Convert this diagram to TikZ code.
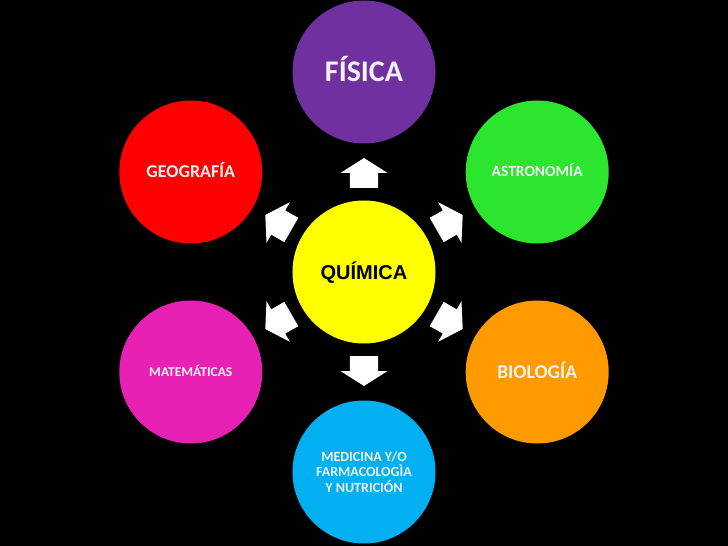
\documentclass[tikz,border=0pt]{standalone}
\usepackage{fontspec}
\setmainfont{Carlito}
\newfontfamily\arialfont{Liberation Sans}
\usetikzlibrary{calc}

\definecolor{quimica}{HTML}{FFFF00}
\definecolor{fisica}{HTML}{7030A0}
\definecolor{astronomia}{HTML}{2CE52E}
\definecolor{biologia}{HTML}{FF9A00}
\definecolor{medicina}{HTML}{00B0F0}
\definecolor{matematicas}{HTML}{E621B4}
\definecolor{geografia}{HTML}{FF0000}
\definecolor{labeltext}{HTML}{F2F2F2}

\tikzset{
	ball/.style={circle, minimum size=143pt, inner sep=0pt, text=labeltext, text depth=0pt},
	blockarrow/.style={fill=white}
}

\begin{document}
\begin{tikzpicture}[x=1pt, y=1pt]
					\fill[black] (-364,-274) rectangle (364,272);
					\node[ball, fill=quimica, text=black, text height=14.3pt, font=\arialfont\bfseries\fontsize{20}{24}\selectfont] (QUI)at(0, 0) {QUÍMICA};
					\node[ball, fill=fisica, text height=19.3pt, font=\bfseries\fontsize{30}{36}\selectfont] (FIS)at(90:200) {FÍSICA};
					\node[ball, fill=astronomia, text height=10pt, font=\bfseries\fontsize{15.5}{18}\selectfont] (AST)at(30:200) {ASTRONOMÍA};
					\node[ball, fill=biologia, text height=12.6pt, font=\bfseries\fontsize{19.5}{23}\selectfont] (BIO)at(-30:200) {BIOLOGÍA};
					\node[ball, fill=medicina, align=center, text depth=, font=\bfseries\fontsize{14}{15.5}\selectfont] (MED)at(-90:200) {MEDICINA Y/O\\FARMACOLOGÌA\\Y NUTRICIÓN};
					\node[ball, fill=matematicas, text height=8.7pt, font=\bfseries\fontsize{13.5}{16}\selectfont] (MAT)at(210:200) {MATEMÁTICAS};
					\node[ball, fill=geografia, text height=11.6pt, font=\bfseries\fontsize{18}{22}\selectfont] (GEO)at(150:200) {GEOGRAFÍA};
					\foreach \n/\a in {FIS/90, AST/30, BIO/-30, MED/-90, MAT/210, GEO/150}
						\fill[blockarrow, shift={($(QUI)!0.5!(\n)$)}, rotate=\a] (-16,-14) -- (-1,-14) -- (-1,-23.5) -- (14,0) -- (-1,23.5) -- (-1,14) -- (-16,14) -- cycle;
				\end{tikzpicture}
\end{document}
